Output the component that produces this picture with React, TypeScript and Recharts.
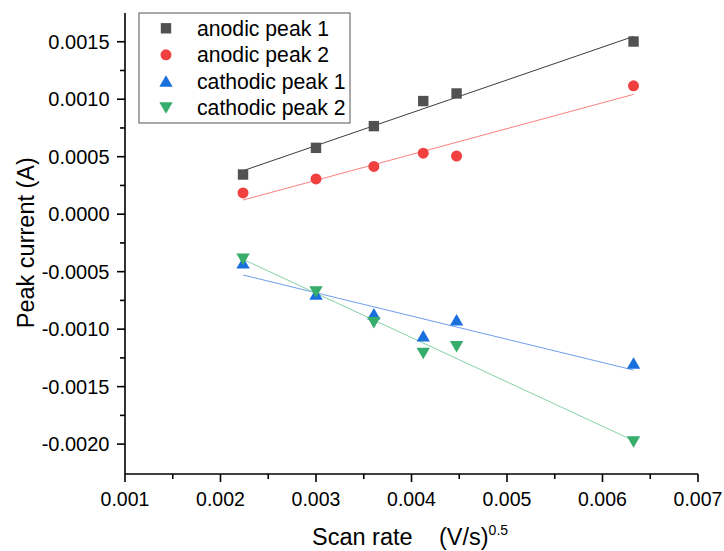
import React from 'react';
import { ScatterChart, Scatter, XAxis, YAxis, Customized } from 'recharts';

// sqrt of scan rate, (V/s)^0.5
const scanRateSqrt = [0.002236, 0.003, 0.003606, 0.004123, 0.004472, 0.006325];
const anodicPeak1 = [0.000345, 0.000577, 0.000766, 0.000984, 0.00105, 0.001502];
const anodicPeak2 = [0.000185, 0.000307, 0.000415, 0.000531, 0.000506, 0.001117];
const cathodicPeak1 = [-0.000424, -0.000696, -0.000868, -0.001059, -0.00092, -0.001297];
const cathodicPeak2 = [-0.000389, -0.000674, -0.000943, -0.00121, -0.001152, -0.00198];

// linear fit end points
const fitX = [0.002236, 0.006325];
const fitAnodic1 = [0.000378, 0.001546];
const fitAnodic2 = [0.000123, 0.001042];
const fitCathodic1 = [-0.000529, -0.001356];
const fitCathodic2 = [-0.000393, -0.00197];

const xMajorTicks = [0.001, 0.002, 0.003, 0.004, 0.005, 0.006, 0.007];
const xMinorTicks = [0.0015, 0.0025, 0.0035, 0.0045, 0.0055, 0.0065];
const yMajorTicks = [-0.002, -0.0015, -0.001, -0.0005, 0, 0.0005, 0.001, 0.0015];
const yMinorTicks = [-0.00175, -0.00125, -0.00075, -0.00025, 0.00025, 0.00075, 0.00125];

const seriesNames = ['anodic peak 1', 'anodic peak 2', 'cathodic peak 1', 'cathodic peak 2'];
const markerColors = ['#515151', '#F14040', '#1A6FDF', '#37AD6B'];
const fitColors = ['#3c3c3c', '#f78080', '#6e9ff0', '#86d2a6'];

const FONT = "'Liberation Sans', Arial, sans-serif";

const toPts = (xs: number[], ys: number[]) => xs.map((x, i) => ({ x, y: ys[i] }));

const Square = ({ cx, cy, fill }: any) => (
  <rect x={cx - 5.2} y={cy - 5.2} width={10.4} height={10.4} fill={fill} />
);
const Circle = ({ cx, cy, fill }: any) => <circle cx={cx} cy={cy} r={5.5} fill={fill} />;
const TriUp = ({ cx, cy, fill }: any) => (
  <polygon points={`${cx},${cy - 6} ${cx - 6.7},${cy + 5.5} ${cx + 6.7},${cy + 5.5}`} fill={fill} />
);
const TriDown = ({ cx, cy, fill }: any) => (
  <polygon points={`${cx},${cy + 6} ${cx - 6.7},${cy - 5.5} ${cx + 6.7},${cy - 5.5}`} fill={fill} />
);
const NoShape = () => <g />;
const markers = [Square, Circle, TriUp, TriDown];

const isMajor = (v: number, majors: number[]) => majors.some((m) => Math.abs(m - v) < 1e-9);

const XTick = ({ x, y, payload }: any) => {
  const major = isMajor(payload.value, xMajorTicks);
  return (
    <g>
      <line x1={x} x2={x} y1={y} y2={y + (major ? 8 : 5)} stroke="#000" strokeWidth={1.6} />
      {major && (
        <text x={x} y={y + 32} textAnchor="middle" fontFamily={FONT} fontSize={19.5} fill="#000">
          {payload.value.toFixed(3)}
        </text>
      )}
    </g>
  );
};

const YTick = ({ x, y, payload }: any) => {
  const major = isMajor(payload.value, yMajorTicks);
  return (
    <g>
      <line x1={x - (major ? 8 : 5)} x2={x} y1={y} y2={y} stroke="#000" strokeWidth={1.6} />
      {major && (
        <text x={x - 15.5} y={y} dy="0.35em" textAnchor="end" fontFamily={FONT} fontSize={20} fill="#000">
          {payload.value.toFixed(4)}
        </text>
      )}
    </g>
  );
};

const Decorations = () => {
  const rowY = [28.3, 54.8, 81.3, 107.8];
  return (
    <g>
      <rect x={139} y={13} width={211} height={110} fill="#fff" stroke="#555" strokeWidth={1} />
      {seriesNames.map((name, i) => {
        const M = markers[i];
        return (
          <g key={name}>
            <M cx={166} cy={rowY[i]} fill={markerColors[i]} />
            <text x={197} y={rowY[i]} dy="0.36em" fontFamily={FONT} fontSize={21.2} fill="#000">
              {name}
            </text>
          </g>
        );
      })}
      <text
        x={34}
        y={242.7}
        transform="rotate(-90, 34, 242.7)"
        textAnchor="middle"
        fontFamily={FONT}
        fontSize={23.5}
        fill="#000"
      >
        Peak current (A)
      </text>
      <text x={312} y={545} fontFamily={FONT} fontSize={23.5} fill="#000">
        Scan rate
      </text>
      <text x={439} y={545} fontFamily={FONT} fontSize={23.5} fill="#000">
        (V/s)
        <tspan dy={-10} fontSize={14}>0.5</tspan>
      </text>
    </g>
  );
};

const measured = [anodicPeak1, anodicPeak2, cathodicPeak1, cathodicPeak2];
const fits = [fitAnodic1, fitAnodic2, fitCathodic1, fitCathodic2];

export default function App() {
  return (
    <div style={{ position: 'absolute', left: 0, top: 0, background: '#fff' }}>
      <ScatterChart width={724} height={551} margin={{ top: 13, right: 26, bottom: 0, left: 0 }}>
        <XAxis
          type="number"
          dataKey="x"
          domain={[0.001, 0.007]}
          ticks={[...xMajorTicks, ...xMinorTicks].sort((a, b) => a - b)}
          interval={0}
          tickSize={0}
          tickMargin={0}
          tick={<XTick />}
          axisLine={{ stroke: '#000', strokeWidth: 1.6 }}
          tickLine={false}
          height={77}
          allowDataOverflow
        />
        <YAxis
          type="number"
          dataKey="y"
          domain={[-0.00226, 0.00175]}
          ticks={[...yMajorTicks, ...yMinorTicks].sort((a, b) => a - b)}
          interval={0}
          tickSize={0}
          tickMargin={0}
          tick={<YTick />}
          axisLine={{ stroke: '#000', strokeWidth: 1.6 }}
          tickLine={false}
          width={125}
          allowDataOverflow
        />
        {fits.map((f, i) => (
          <Scatter
            key={'fit' + i}
            data={toPts(fitX, f)}
            line={{ stroke: fitColors[i], strokeWidth: 1 }}
            lineType="joint"
            shape={<NoShape />}
            fill={fitColors[i]}
            isAnimationActive={false}
          />
        ))}
        {measured.map((m, i) => {
          const M = markers[i];
          return (
            <Scatter
              key={seriesNames[i]}
              name={seriesNames[i]}
              data={toPts(scanRateSqrt, m)}
              fill={markerColors[i]}
              shape={<M />}
              isAnimationActive={false}
            />
          );
        })}
        <Customized component={<Decorations />} />
      </ScatterChart>
    </div>
  );
}
